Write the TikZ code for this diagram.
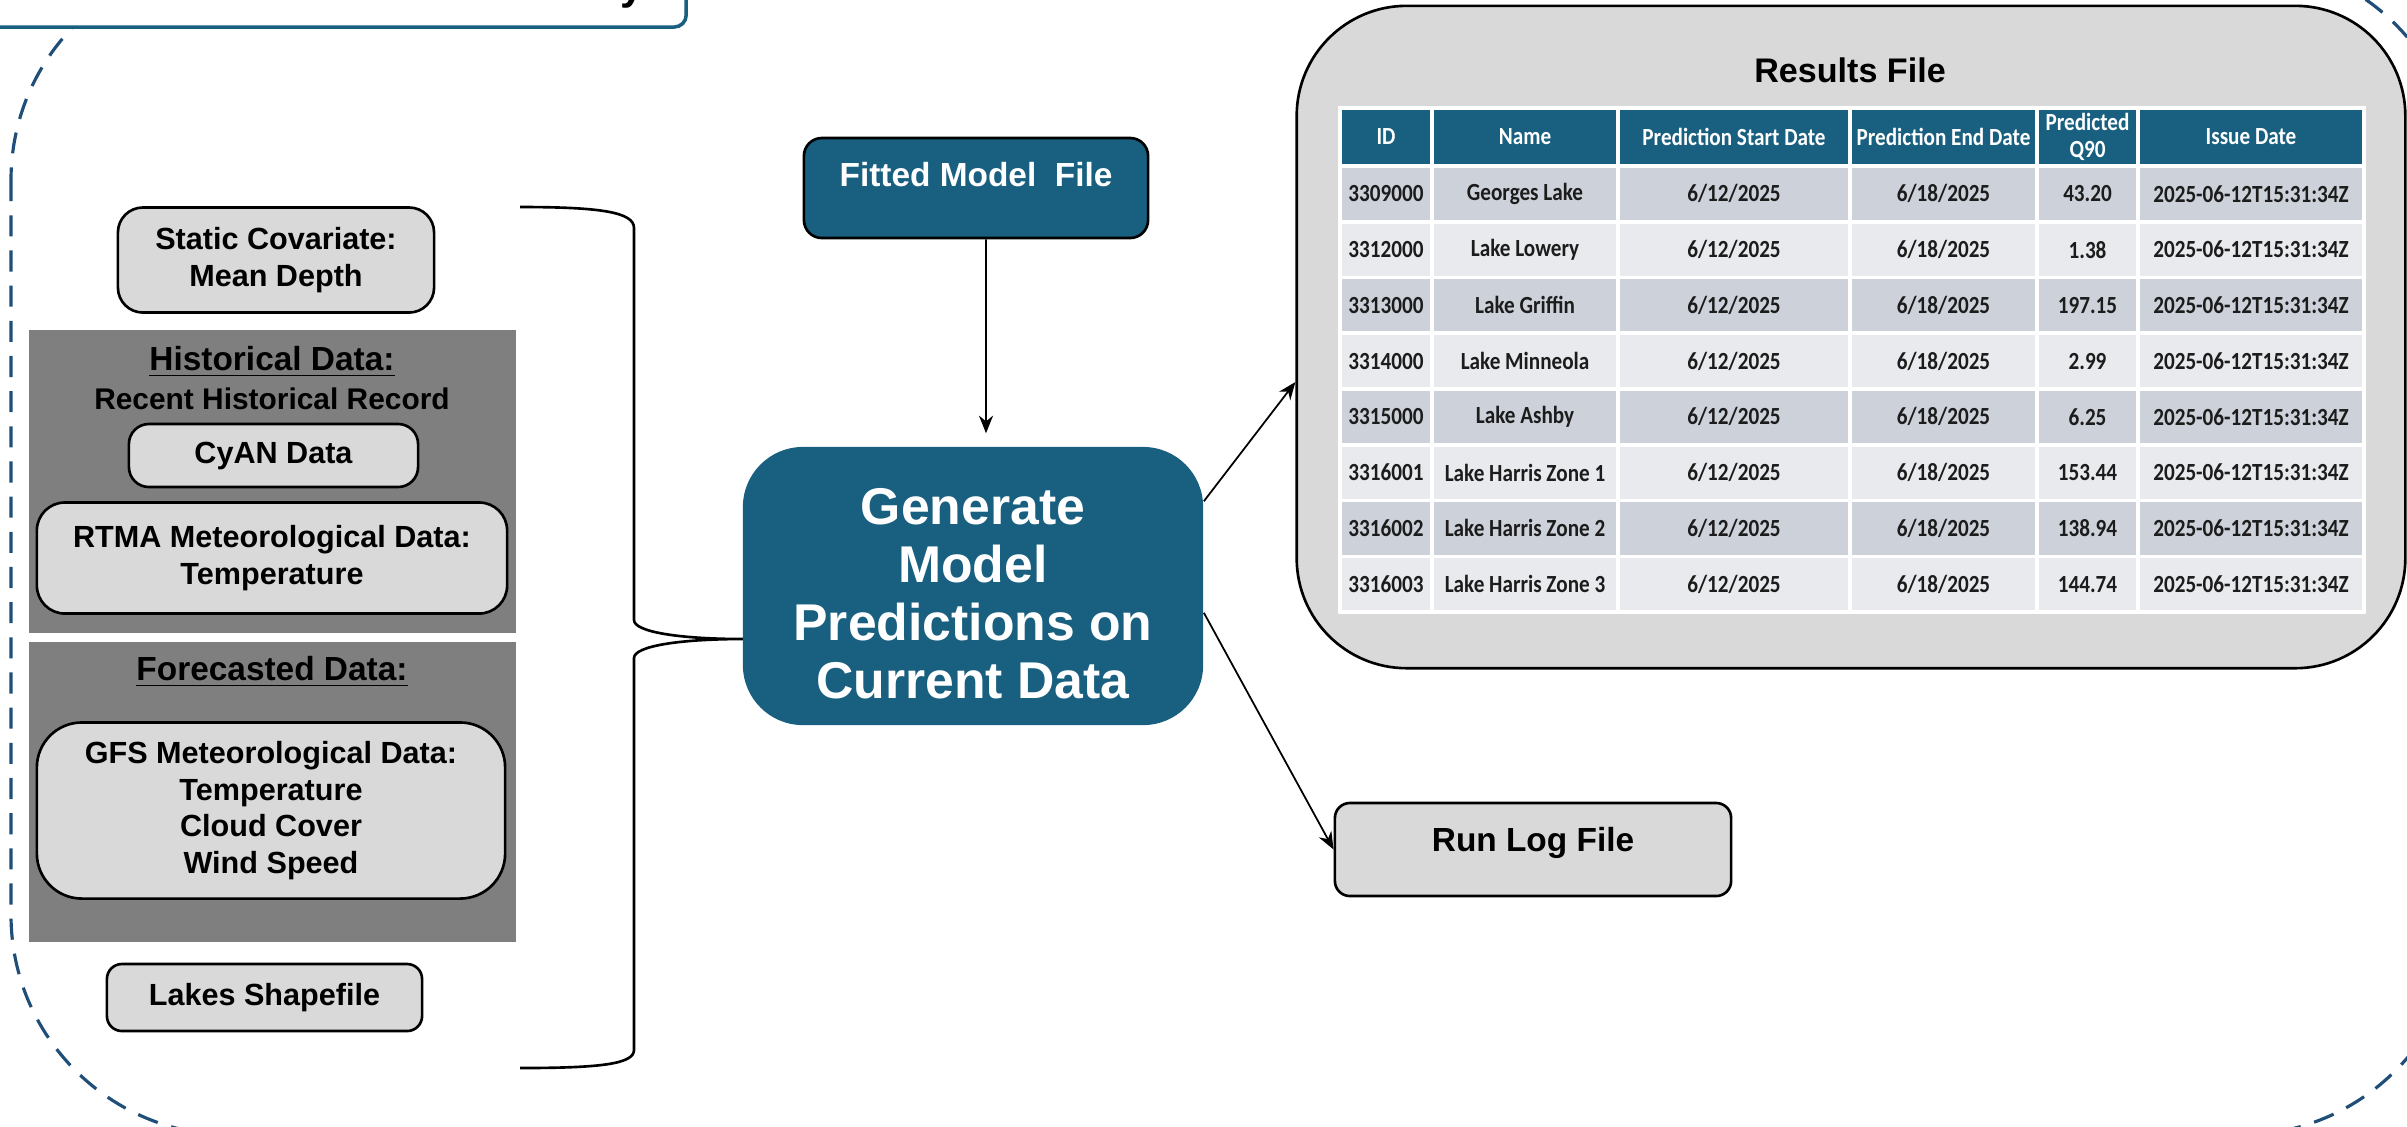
\documentclass[tikz,border=0pt]{standalone}
\usepackage{fontspec}
\setmainfont{Liberation Sans}
\newfontfamily\tabfont[FakeStretch=0.86]{Carlito}
\usetikzlibrary{arrows.meta}

\definecolor{mainteal}{RGB}{24,95,128}
\definecolor{dashblue}{RGB}{31,78,121}
\definecolor{boxgray}{RGB}{217,217,217}
\definecolor{panelgray}{RGB}{127,127,127}
\definecolor{rowdark}{RGB}{205,210,218}
\definecolor{rowlight}{RGB}{232,234,237}
\definecolor{inktext}{RGB}{28,28,28}

\begin{document}
\begin{tikzpicture}[x=0.01cm,y=-0.01cm,
  box/.style={draw=black, line width=0.75pt, fill=boxgray, align=center, inner sep=0pt,
    font=\bfseries\fontsize{8.7}{10.4}\selectfont},
  panel/.style={fill=panelgray, inner sep=0pt},
  heading/.style={inner sep=0pt, font=\bfseries\fontsize{9.5}{11}\selectfont},
  subheading/.style={inner sep=0pt, font=\bfseries\fontsize{8.5}{10}\selectfont},
  arr/.style={-{Stealth[length=5pt,width=4pt]}, line width=0.5pt, black},
  cell/.style={draw=white, line width=1pt, inner sep=0pt, align=center, text=inktext,
    font=\tabfont\bfseries\fontsize{7}{7.6}\selectfont},
]
\useasboundingbox (0,0) rectangle (2407,1126);

% outer dashed frame
\draw[dashblue, line width=0.9pt, dash pattern=on 6pt off 4pt, rounded corners=2.2cm]
  (11,-40) rectangle (2460,1135);

% title box, mostly above the page
\node[draw=mainteal, line width=1pt, fill=white, rounded corners=0.12cm,
  minimum width=7.12cm, minimum height=1.34cm, inner sep=0pt] (titlebox) at (330,-40) {};
\node[anchor=base east, inner sep=0pt, font=\bfseries\fontsize{12}{14}\selectfont]
  (titletext) at (645,-1) {Model Prediction Summary};

% inputs column
\node[box, rounded corners=0.25cm, minimum width=3.16cm, minimum height=1.05cm]
  (static) at (276,260) {Static Covariate:\\Mean Depth};

\node[panel, minimum width=4.87cm, minimum height=3.02cm] (histpanel) at (272.5,481.5) {};
\node[heading] (histtitle) at (272,362) {\underline{Historical Data:}};
\node[subheading] (histsub) at (272,399) {Recent Historical Record};
\node[box, rounded corners=0.2cm, minimum width=2.89cm, minimum height=0.63cm]
  (cyan) at (273.5,455.5) {CyAN Data};
\node[box, rounded corners=0.28cm, minimum width=4.7cm, minimum height=1.11cm]
  (rtma) at (272,558) {RTMA Meteorological Data:\\Temperature};

\node[panel, minimum width=4.87cm, minimum height=3.0cm] (forepanel) at (272.5,792) {};
\node[heading] (foretitle) at (272,672) {\underline{Forecasted Data:}};
\node[box, rounded corners=0.45cm, minimum width=4.68cm, minimum height=1.76cm]
  (gfs) at (271,810.5) {GFS Meteorological Data:\\Temperature\\Cloud Cover\\Wind Speed};

\node[box, rounded corners=0.15cm, minimum width=3.15cm, minimum height=0.67cm]
  (lakes) at (264.5,997.5) {Lakes Shapefile};

% brace gathering the inputs
\coordinate (bracetop) at (520,207);
\coordinate (bracebot) at (520,1068);
\coordinate (bracetip) at (743,639);
\draw[line width=0.75pt] (bracetop) .. controls (600,207) and (634,212) .. (634,228)
  -- (634,620) .. controls (634,632) and (680,639) .. (bracetip)
  .. controls (680,639) and (634,646) .. (634,658)
  -- (634,1050) .. controls (634,1064) and (600,1068) .. (bracebot);

% model file and processing step
\node[draw=black, line width=0.75pt, fill=mainteal, rounded corners=0.18cm,
  minimum width=3.44cm, minimum height=1.0cm, inner sep=0pt,
  label={[text=white, inner sep=0pt, font=\bfseries\fontsize{9.5}{11}\selectfont, yshift=0.13cm]center:Fitted Model\ \ File}]
  (fit) at (976,188) {};

\node[fill=mainteal, rounded corners=0.6cm, minimum width=4.6cm, minimum height=2.78cm, inner sep=0pt,
  label={[text=white, align=center, inner sep=0pt, font=\bfseries\fontsize{14.7}{16.5}\selectfont, yshift=-0.08cm]center:Generate\\Model\\Predictions on\\Current Data}]
  (gen) at (973,586) {};

% results file with table
\node[draw=black, line width=0.75pt, fill=boxgray, rounded corners=1.1cm,
  minimum width=11.08cm, minimum height=6.62cm, inner sep=0pt] (res) at (1851,337) {};
\node[inner sep=0pt, font=\bfseries\fontsize{9.7}{11}\selectfont] (restitle) at (1850,70) {Results File};

\def\sdate{6/12/2025}
\def\edate{6/18/2025}
\def\idate{2025-06-12T15:31:34Z}

\foreach \xa/\xb/\c/\txt in {1340/1432/1/ID, 1432/1618/2/Name, 1618/1850/3/Prediction Start Date,
    1850/2037/4/Prediction End Date, 2037/2138/5/{Predicted\\Q90}, 2138/2364/6/Issue Date}{
  \pgfmathsetmacro\w{(\xb-\xa)/100}
  \node[cell, fill=mainteal, text=white, minimum width=\w cm, minimum height=0.58cm]
    (h-\c) at ({(\xa+\xb)/2},137) {\txt};
}

\foreach \id/\nm/\q [count=\r] in {3309000/Georges Lake/43.20, 3312000/Lake Lowery/1.38,
    3313000/Lake Griffin/197.15, 3314000/Lake Minneola/2.99, 3315000/Lake Ashby/6.25,
    3316001/Lake Harris Zone 1/153.44, 3316002/Lake Harris Zone 2/138.94,
    3316003/Lake Harris Zone 3/144.74}{
  \pgfmathsetmacro\yc{166+55.75*(\r-0.5)}
  \ifodd\r \def\rf{rowdark}\else\def\rf{rowlight}\fi
  \foreach \xa/\xb/\c/\txt in {1340/1432/1/\id, 1432/1618/2/\nm, 1618/1850/3/\sdate,
      1850/2037/4/\edate, 2037/2138/5/\q, 2138/2364/6/\idate}{
    \pgfmathsetmacro\w{(\xb-\xa)/100}
    \node[cell, fill=\rf, minimum width=\w cm, minimum height=0.5575cm]
      (r\r-\c) at ({(\xa+\xb)/2},\yc) {\txt};
  }
}

% run log
\node[box, rounded corners=0.15cm, minimum width=3.96cm, minimum height=0.93cm,
  label={[inner sep=0pt, font=\bfseries\fontsize{9.5}{11}\selectfont, yshift=0.07cm]center:Run Log File}]
  (log) at (1533,849.5) {};

% connectors
\draw[arr] ([xshift=0.1cm]fit.south) -- ([xshift=0.13cm,yshift=0.13cm]gen.north);
\draw[arr] ([yshift=-0.55cm]gen.north east) -- ([yshift=-0.45cm]res.west);
\draw[arr] ([yshift=1.13cm]gen.south east) -- (log.west);
\end{tikzpicture}
\end{document}
